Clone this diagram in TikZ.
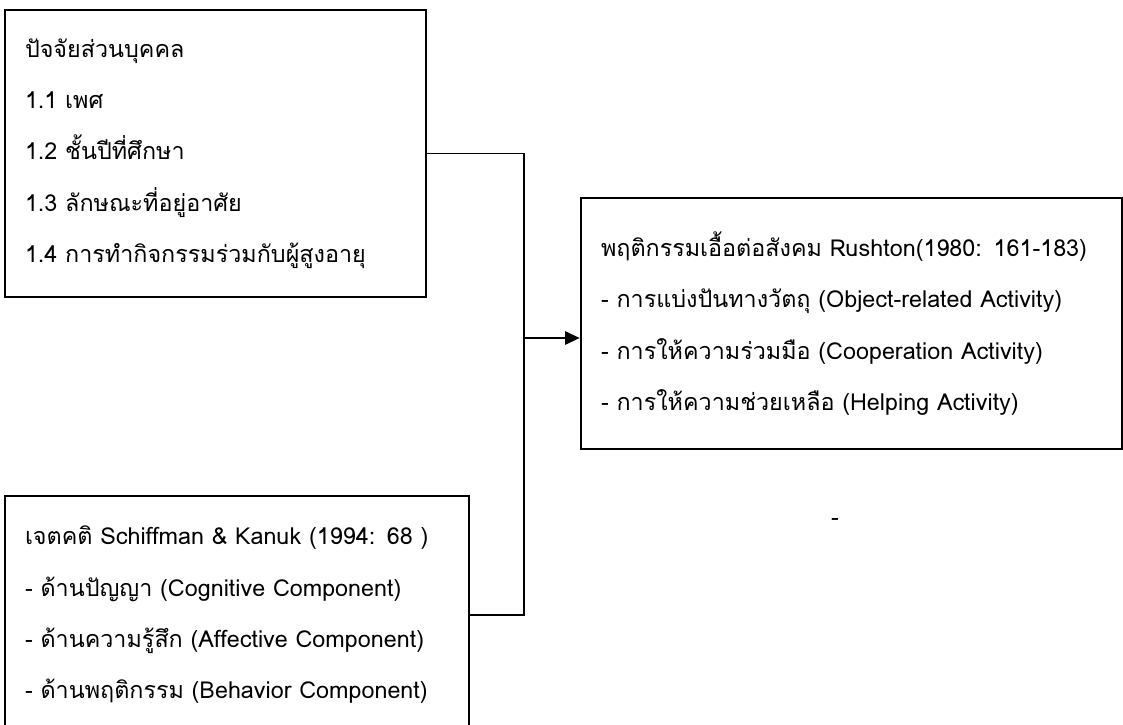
\documentclass[tikz,border=0pt]{standalone}
\usepackage{fontspec}
\setmainfont[Script=Thai]{Loma}
\usetikzlibrary{arrows.meta}
\tikzset{
  factor/.style={draw, line width=2pt, rectangle, align=left, inner xsep=15pt, inner ysep=0pt,
    font=\fontsize{17.5}{38.5}\selectfont},
  link/.style={line width=0.8pt},
  lead/.style={line width=1.6pt, -{Triangle[length=11pt,width=10pt]}}
}
\begin{document}
\begin{tikzpicture}[x=0.75pt,y=-0.75pt]
  \useasboundingbox (0,0) rectangle (1123,724);
  \node[factor, text width=285.75pt, minimum height=215.25pt] (personal) at (215.5,153.5)
    {ปัจจัยส่วนบุคคล\\ 1.1 เพศ\\ 1.2 ชั้นปีที่ศึกษา\\ 1.3 ลักษณะที่อยู่อาศัย\\ 1.4 การทำกิจกรรมร่วมกับผู้สูงอายุ};
  \node[factor, text width=318pt, minimum height=178.5pt] (attitude) at (237,615)
    {เจตคติ Schiffman \& Kanuk (1994: 68 )\\ - ด้านปัญญา (Cognitive Component)\\ - ด้านความรู้สึก (Affective Component)\\ - ด้านพฤติกรรม (Behavior Component)};
  \node[factor, text width=375.75pt, minimum height=188.25pt] (prosocial) at (851.5,323.5)
    {พฤติกรรมเอื้อต่อสังคม Rushton(1980: 161-183)\\ - การแบ่งปันทางวัตถุ (Object-related Activity)\\ - การให้ความร่วมมือ (Cooperation Activity)\\ - การให้ความช่วยเหลือ (Helping Activity)};
  \node[font=\fontsize{17.5}{20}\selectfont] (dash) at (835,522) {-};
  \coordinate (join) at (524,338);
  \draw[link] (personal.east) -| (join) |- (attitude.east);
  \draw[lead] (join) -- (join -| prosocial.west);
\end{tikzpicture}
\end{document}
